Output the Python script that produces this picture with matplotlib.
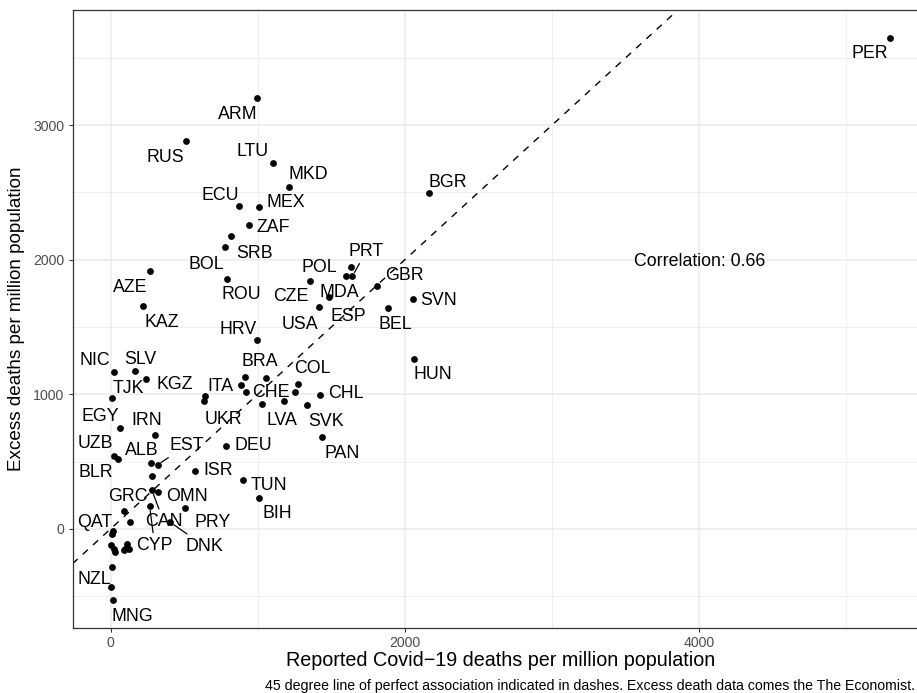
import matplotlib
matplotlib.use("Agg")
import matplotlib.pyplot as plt


# --------------------------------------------------
# Data : reported Covid-19 deaths vs excess deaths (per million)
# "" = point drawn without a label
# --------------------------------------------------
countries = [
    "PER", "ARM", "RUS", "LTU", "MKD", "ECU", "MEX", "ZAF", "SRB", "BOL",
    "ROU", "AZE", "KAZ", "HRV", "BGR", "SVN", "BEL", "GBR", "HUN", "PRT",
    "POL", "MDA", "CZE", "ESP", "USA", "NIC", "SLV", "KGZ", "TJK", "BRA",
    "ITA", "CHE", "", "", "COL", "", "CHL", "LVA", "SVK", "PAN",
    "DEU", "TUN", "BIH", "ISR", "UKR", "", "EGY", "IRN", "UZB", "BLR",
    "ALB", "EST", "", "GRC", "CAN", "OMN", "PRY", "CYP", "DNK", "",
    "QAT", "", "", "", "", "", "", "", "", "NZL",
    "", "MNG",
]
reported_deaths = [
    5294, 994, 509, 1100, 1213, 872, 1007, 937, 821, 779,
    788, 270, 217, 996, 2164, 2053, 1887, 1813, 2060, 1643,
    1634, 1598, 1358, 1485, 1417, 25, 163, 238, 10, 910,
    883, 917, 1030, 1057, 1270, 1254, 1424, 1179, 1333, 1437,
    785, 896, 1005, 575, 641, 636, 62, 299, 20, 48,
    276, 319, 281, 89, 281, 319, 507, 265, 405, 129,
    16, 9, 5, 20, 32, 111, 100, 88, 122, 10,
    5, 16,
]
excess_deaths = [
    3650, 3204, 2884, 2718, 2542, 2396, 2393, 2254, 2173, 2093,
    1857, 1914, 1654, 1401, 2493, 1706, 1641, 1803, 1262, 1877,
    1946, 1877, 1842, 1721, 1647, 1165, 1176, 1116, 975, 1128,
    1068, 1014, 930, 1121, 1079, 1016, 992, 947, 923, 682,
    615, 359, 231, 426, 984, 947, 750, 696, 538, 521,
    491, 476, 389, 136, 285, 272, 153, 166, 49, 49,
    -18, -37, -117, -149, -174, -112, -149, -161, -149, -281,
    -435, -526,
]
correlation_text = "Correlation: 0.66"

# label placement (pixels right, pixels down from the point), mimics ggrepel
label_offsets = {
    "PER": (-20, 14), "ARM": (-19, 15), "RUS": (-20, 15), "LTU": (-20, -13),
    "MKD": (19, -14), "ECU": (-19, -13), "MEX": (27, -6), "ZAF": (25, 0),
    "SRB": (23, 15), "BOL": (-19, 15), "ROU": (15, 14), "AZE": (-20, 14),
    "KAZ": (19, 14), "HRV": (-19.5, -13), "BGR": (18.5, -13), "SVN": (26, -1),
    "BEL": (7, 15), "GBR": (27, -13), "HUN": (19, 14), "PRT": (14, -27),
    "POL": (-32, -1), "MDA": (-6, 14), "CZE": (-20, 14), "ESP": (19, 17),
    "USA": (-19.5, 15), "NIC": (-20, -13), "SLV": (6, -13), "KGZ": (29, 4),
    "TJK": (16, -11), "BRA": (15, -17), "ITA": (-20, 0), "CHE": (25, -2),
    "COL": (15, -17), "CHL": (26, -4), "LVA": (-2, 17), "SVK": (19, 15),
    "PAN": (20, 15), "DEU": (27, -2), "TUN": (26, 3), "BIH": (19, 14),
    "ISR": (23, -3), "UKR": (18, 21), "EGY": (-19.5, -13), "IRN": (-8, -17),
    "UZB": (-18, -14.5), "BLR": (-22, 12), "ALB": (-9.5, -14.5), "EST": (29, -21),
    "GRC": (4, -16), "CAN": (11.6, 29.3), "OMN": (29, 2), "PRY": (27, 12),
    "CYP": (5, 37), "DNK": (34, 22), "QAT": (-18, -11), "NZL": (-18, 11),
    "MNG": (19, 15),
}
segment_labels = {"PRT", "EST", "CAN", "CYP", "DNK"}

LABEL_SIZE = 12.8
CAP_HALF = 0.716 * LABEL_SIZE * 100 / 72 / 2
GRID_COLOR = "#EBEBEB"

plt.rcParams["font.family"] = ["Liberation Sans", "DejaVu Sans"]

fig = plt.figure(figsize=(9.17, 6.93), dpi=100)
W, H = 917, 693
left, right, top, bottom = 72.5, 928.5, 9.5, 627.7
ax = fig.add_axes([left / W, 1 - bottom / H, (right - left) / W, (bottom - top) / H])

# ggplot-like 5 % expansion of the data range
x_min, x_max = min(reported_deaths), max(reported_deaths)
y_min, y_max = min(excess_deaths), max(excess_deaths)
x_pad = 0.05 * (x_max - x_min)
y_pad = 0.05 * (y_max - y_min)
ax.set_xlim(x_min - x_pad, x_max + x_pad)
ax.set_ylim(y_min - y_pad, y_max + y_pad)

ax.set_xticks([0, 2000, 4000])
ax.set_xticks([1000, 3000, 5000], minor=True)
ax.set_yticks([0, 1000, 2000, 3000])
ax.set_yticks([-500, 500, 1500, 2500, 3500], minor=True)
ax.grid(which="major", color=GRID_COLOR, linewidth=1.1)
ax.grid(which="minor", color=GRID_COLOR, linewidth=0.55)
ax.set_axisbelow(True)
ax.tick_params(which="major", length=3.2, width=0.8, color="#333333",
               labelcolor="#4D4D4D", labelsize=10.2, pad=2.5)
ax.tick_params(which="minor", length=0)
for spine in ax.spines.values():
    spine.set_color("#333333")
    spine.set_linewidth(0.9)

# 45 degree line
ax.axline((0, 0), slope=1, color="black", linewidth=1.0, linestyle=(0, (5, 5)), zorder=2)

ax.scatter(reported_deaths, excess_deaths, s=24, color="black", linewidths=0, zorder=3)

for code, x, y in zip(countries, reported_deaths, excess_deaths):
    if code not in label_offsets:
        continue
    dx, dy = label_offsets[code]
    arrow = None
    if code in segment_labels:
        arrow = dict(arrowstyle="-", color="black", linewidth=0.9, shrinkA=1, shrinkB=3)
    ax.annotate(code, (x, y), xytext=(dx, -dy - CAP_HALF), textcoords="offset pixels",
                ha="center", va="baseline", fontsize=LABEL_SIZE, color="black",
                arrowprops=arrow, zorder=4)

ax.annotate(correlation_text, (4000, 2000), xytext=(0, -CAP_HALF), textcoords="offset pixels",
            ha="center", va="baseline", fontsize=LABEL_SIZE)

fig.text((left + right) / 2 / W, 1 - 661 / H, "Reported Covid\u221219 deaths per million population",
         ha="center", va="center", fontsize=14.2)
fig.text(17 / W, 1 - (top + bottom) / 2 / H, "Excess deaths per million population",
         ha="center", va="center", rotation=90, fontsize=13.6)
# caption kept fully inside the picture (the reference crops its last letters)
fig.text(915 / W, 1 - 686 / H,
         "45 degree line of perfect association indicated in dashes. "
         "Excess death data comes the The Economist.",
         ha="right", va="center", fontsize=10.2)

fig.savefig("out.png", dpi=100)
